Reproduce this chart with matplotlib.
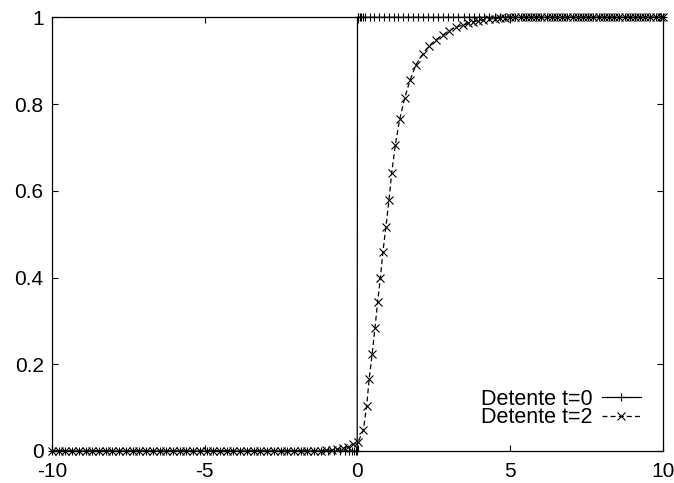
import numpy as np
import matplotlib
matplotlib.use('Agg')
import matplotlib.pyplot as plt

plt.rcParams['font.family'] = ['Liberation Sans', 'DejaVu Sans']
plt.rcParams['axes.unicode_minus'] = False

# t=0 : step profile on the mesh
x_t0 = [-10.00, -9.78, -9.56, -9.34, -9.12, -8.90, -8.68, -8.46, -8.24, -8.02,
        -7.80, -7.58, -7.36, -7.14, -6.92, -6.70, -6.48, -6.26, -6.04, -5.82,
        -5.60, -5.38, -5.16, -4.94, -4.72, -4.50, -4.28, -4.06, -3.84, -3.62,
        -3.40, -3.18, -2.96, -2.74, -2.52, -2.30, -2.08, -1.86, -1.64, -1.42,
        -1.20, -0.98, -0.76, -0.56, -0.40, -0.28, -0.18, -0.10, -0.04, -0.01,
        0.00, 0.03, 0.07, 0.12, 0.18, 0.26, 0.40, 0.55, 0.70, 0.86,
        1.02, 1.18, 1.34, 1.50, 1.66, 1.82, 1.98, 2.14, 2.30, 2.46,
        2.62, 2.79, 2.96, 3.13, 3.30, 3.47, 3.64, 3.81, 3.98, 4.15,
        4.32, 4.49, 4.66, 4.83, 5.00, 5.17, 5.34, 5.51, 5.68, 5.85,
        6.02, 6.19, 6.36, 6.53, 6.70, 6.87, 7.04, 7.21, 7.38, 7.55,
        7.72, 7.89, 8.06, 8.23, 8.40, 8.57, 8.74, 8.91, 9.08, 9.25,
        9.42, 9.59, 9.76, 9.93, 10.00]
y_t0 = [0] * 50 + [1] * 65

# t=2 : relaxed profile
x_t2 = [-10.00, -9.78, -9.56, -9.34, -9.12, -8.90, -8.68, -8.46, -8.24, -8.02,
        -7.80, -7.58, -7.36, -7.14, -6.92, -6.70, -6.48, -6.26, -6.04, -5.82,
        -5.60, -5.38, -5.16, -4.94, -4.72, -4.50, -4.28, -4.06, -3.84, -3.62,
        -3.40, -3.18, -2.96, -2.74, -2.52, -2.30, -2.08, -1.86, -1.64, -1.42,
        -1.20, -1.02, -0.84, -0.66, -0.48, -0.32, -0.16, 0.02,
        0.19, 0.30, 0.38, 0.48, 0.57, 0.66, 0.75, 0.83, 0.93, 1.03,
        1.12, 1.24, 1.38, 1.55, 1.72, 1.91, 2.13, 2.34, 2.57, 2.79,
        3.00, 3.21, 3.46, 3.63, 3.79, 3.95, 4.12, 4.30, 4.49, 4.66,
        4.83, 5.00, 5.17, 5.34, 5.51, 5.68, 5.85,
        6.02, 6.19, 6.36, 6.53, 6.70, 6.87, 7.04, 7.21, 7.38, 7.55,
        7.72, 7.89, 8.06, 8.23, 8.40, 8.57, 8.74, 8.91, 9.08, 9.25,
        9.42, 9.59, 9.76, 9.93, 10.00]
y_t2 = [0] * 37 + [0.0003, 0.0005, 0.0008, 0.001, 0.0015,
                   0.002, 0.004, 0.006, 0.010, 0.015, 0.021,
                   0.048, 0.104, 0.165, 0.224, 0.283, 0.344, 0.400, 0.458, 0.517, 0.579,
                   0.642, 0.706, 0.765, 0.815, 0.855, 0.890, 0.915, 0.934, 0.948, 0.959,
                   0.969, 0.977, 0.982, 0.986, 0.990, 0.992, 0.994, 0.996, 0.997, 0.998,
                   0.999] + [1] * 31

xticks = [-10, -5, 0, 5, 10]
yticks = [0, 0.2, 0.4, 0.6, 0.8, 1]
ytick_labels = ['0', '0.2', '0.4', '0.6', '0.8', '1']

fig = plt.figure(figsize=(6.74, 4.83), dpi=100)
ax = fig.add_axes([52 / 674, 32 / 483, 611 / 674, 433.7 / 483])

# markers sit on the frame like gnuplot, so no clipping
ax.plot(x_t0, y_t0, color='black', lw=0.9, marker='+', ms=6, mew=0.8,
        clip_on=False, label='Detente t=0')
ax.plot(x_t2, y_t2, color='black', lw=0.9, ls=(0, (4, 2.5)), marker='x',
        ms=5.3, mew=0.8, clip_on=False, label='Detente t=2')

ax.set_xlim(-10, 10)
ax.set_ylim(0, 1)
ax.set_xticks(xticks)
ax.set_yticks(yticks)
ax.set_yticklabels(ytick_labels)
ax.tick_params(direction='in', length=4.5, width=0.8, top=True, right=True,
               labelsize=15)
ax.tick_params(axis='x', pad=8)
ax.tick_params(axis='y', pad=6)
for s in ax.spines.values():
    s.set_linewidth(0.9)

# gnuplot-style key: text first, sample on the right
leg = ax.legend(loc='lower right', bbox_to_anchor=(0.9635, 0.052), frameon=False,
                markerfirst=False, handlelength=1.8, handletextpad=0.45,
                labelspacing=-0.1, borderpad=0, borderaxespad=0,
                prop={'size': 15.5})

fig.savefig('out.png', dpi=100)
